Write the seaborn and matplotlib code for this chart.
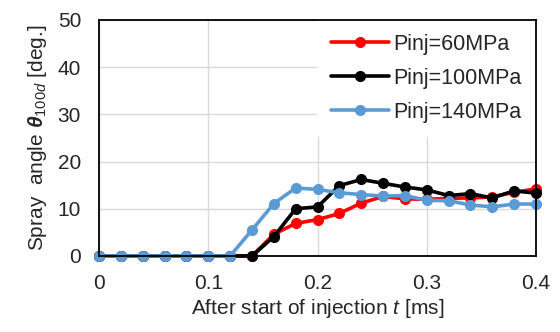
import numpy as np
import pandas as pd
import seaborn as sns
import matplotlib.pyplot as plt

t = [0, 0.02, 0.04, 0.06, 0.08, 0.10, 0.12, 0.14, 0.16, 0.18, 0.20,
     0.22, 0.24, 0.26, 0.28, 0.30, 0.32, 0.34, 0.36, 0.38, 0.40]
p60 = [0, 0, 0, 0, 0, 0, 0, 0, 4.6, 6.9, 7.7, 9.0, 11.2, 12.6, 12.1,
       12.0, 12.2, 12.3, 12.5, 13.5, 14.2]
p100 = [0, 0, 0, 0, 0, 0, 0, 0, 4.1, 10.0, 10.4, 14.9, 16.2, 15.4, 14.6,
        14.0, 12.8, 13.2, 12.3, 13.8, 13.3]
p140 = [0, 0, 0, 0, 0, 0, 0, 5.5, 11.1, 14.4, 14.1, 13.4, 13.0, 12.7, 12.8,
        11.8, 11.7, 10.8, 10.4, 11.0, 11.0]
labels = ["Pinj=60MPa", "Pinj=100MPa", "Pinj=140MPa"]
colors = ["#FF0000", "#000000", "#5B9BD5"]

df = pd.DataFrame({
    "t": t * 3,
    "angle": p60 + p100 + p140,
    "series": [labels[0]] * len(t) + [labels[1]] * len(t) + [labels[2]] * len(t),
})

sns.set_style("white")
plt.rcParams['font.family'] = ['Liberation Sans', 'DejaVu Sans']
plt.rcParams['mathtext.fontset'] = 'custom'
plt.rcParams['mathtext.it'] = 'Liberation Sans:italic'
plt.rcParams['mathtext.rm'] = 'Liberation Sans'
plt.rcParams['mathtext.bf'] = 'Liberation Sans:bold:italic'

fig = plt.figure(figsize=(5.6, 3.32), dpi=100)
ax = fig.add_axes([0.177, 0.229, 0.780, 0.711])

sns.lineplot(data=df, x="t", y="angle", hue="series", palette=colors,
             marker="o", markersize=8, markeredgewidth=0, linewidth=2.6,
             ax=ax, legend=True, zorder=3)
for ln in ax.lines:
    ln.set_clip_on(False)

ax.set_xlim(0, 0.4)
ax.set_ylim(0, 50)
ax.set_xticks([0, 0.1, 0.2, 0.3, 0.4])
ax.set_xticklabels(["0", "0.1", "0.2", "0.3", "0.4"])
ax.set_yticks([0, 10, 20, 30, 40, 50])
ax.tick_params(length=0, labelsize=15, pad=13)
ax.grid(True, color="#D9D9D9", linewidth=1)
ax.set_axisbelow(True)
for s in ax.spines.values():
    s.set_color("black")
    s.set_linewidth(1.3)
    s.set_zorder(6)

ax.set_xlabel("After start of injection $t$ [ms]", fontsize=15, labelpad=3)
ax.set_ylabel(r"Spray  angle $\mathbf{\theta}_{\mathit{100d}}$ [deg.]", fontsize=15, labelpad=6)

leg = ax.legend(loc="upper right", fontsize=15.5, frameon=True, fancybox=False,
                borderaxespad=0, handlelength=2.7, handletextpad=0.2,
                labelspacing=0.6, borderpad=0.65, framealpha=1)
leg.get_frame().set_edgecolor("none")
leg.get_frame().set_facecolor("white")
leg.set_zorder(5)

fig.savefig("out.png", dpi=100)
